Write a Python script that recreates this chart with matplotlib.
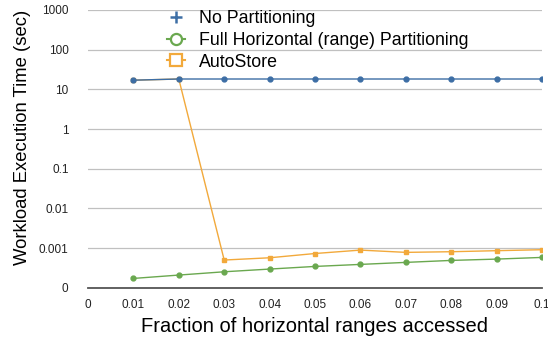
import matplotlib
matplotlib.use('Agg')
import matplotlib.pyplot as plt
from matplotlib.lines import Line2D
from matplotlib.ticker import FixedLocator, FixedFormatter

plt.rcParams['font.family'] = ['Liberation Sans', 'DejaVu Sans']

# данные
fractions = [0.01, 0.02, 0.03, 0.04, 0.05, 0.06, 0.07, 0.08, 0.09, 0.1]
no_partitioning = [17, 18.2, 18.2, 18.2, 18.2, 18.2, 18.2, 18.2, 18.2, 18.2]
full_horizontal = [0.000172, 0.000209, 0.000253, 0.000296, 0.000345,
                   0.000388, 0.000436, 0.000489, 0.000528, 0.000582]
autostore = [17, 18.2, 0.0005, 0.00057, 0.00073, 0.00089,
             0.00078, 0.00081, 0.00086, 0.00091]

x_ticks = [0, 0.01, 0.02, 0.03, 0.04, 0.05, 0.06, 0.07, 0.08, 0.09, 0.1]
x_labels = ['0', '0.01', '0.02', '0.03', '0.04', '0.05', '0.06', '0.07', '0.08', '0.09', '0.1']
y_ticks = [1e-4, 1e-3, 1e-2, 1e-1, 1, 10, 100, 1000]
y_labels = ['0', '0.001', '0.01', '0.1', '1', '10', '100', '1000']

blue = '#3d6ea5'
green = '#6aa84f'
orange = '#f2a93b'

fig = plt.figure(figsize=(5.48, 3.43), dpi=100)
ax = fig.add_axes([0.1606, 0.161, 0.989 - 0.1606, 0.971 - 0.161])

ax.plot(fractions, full_horizontal, color=green, lw=1, marker='o', ms=3.5, zorder=3)
ax.plot(fractions, autostore, color=orange, lw=1, marker='s', ms=3.5, zorder=3)
ax.plot(fractions, no_partitioning, color=blue, lw=1, marker='o', ms=3.5, zorder=4)

ax.set_yscale('log')
ax.set_ylim(1e-4, 1000)
ax.set_xlim(0, 0.1)
ax.yaxis.set_major_locator(FixedLocator(y_ticks))
ax.yaxis.set_major_formatter(FixedFormatter(y_labels))
ax.yaxis.set_minor_locator(FixedLocator([]))
ax.set_xticks(x_ticks)
ax.set_xticklabels(x_labels)
ax.tick_params(axis='both', length=0, labelsize=8.5, colors='#222222')
ax.tick_params(axis='x', pad=8)
ax.tick_params(axis='y', pad=14)

ax.grid(True, axis='y', color='#c0c0c0', lw=0.9)
ax.set_axisbelow(True)
for s in ['left', 'right', 'top']:
    ax.spines[s].set_visible(False)
ax.spines['bottom'].set_color('#555555')
ax.spines['bottom'].set_linewidth(1.3)

ax.set_xlabel('Fraction of horizontal ranges accessed', fontsize=14.5)
ax.xaxis.set_label_coords(0.498, -0.105)
ax.set_ylabel('Workload Execution Time (sec)', fontsize=13.3)
ax.yaxis.set_label_coords(-0.125, 0.54)

handles = [
    Line2D([], [], color=blue, lw=0, marker='+', ms=9, mew=1.8),
    Line2D([], [], color=green, lw=1.5, marker='o', ms=8, mfc='white', mew=1.6),
    Line2D([], [], color=orange, lw=1.5, marker='s', ms=8, mfc='white', mew=1.6),
]
leg = fig.legend(handles, ['No Partitioning', 'Full Horizontal (range) Partitioning', 'AutoStore'],
                 loc='upper left', bbox_to_anchor=(167.5 / 548, 1 - 10 / 343), frameon=False,
                 fontsize=12.8, handlelength=1.0, handletextpad=0.75, labelspacing=0.27,
                 borderpad=0, borderaxespad=0)

fig.savefig('out.png', dpi=100)
